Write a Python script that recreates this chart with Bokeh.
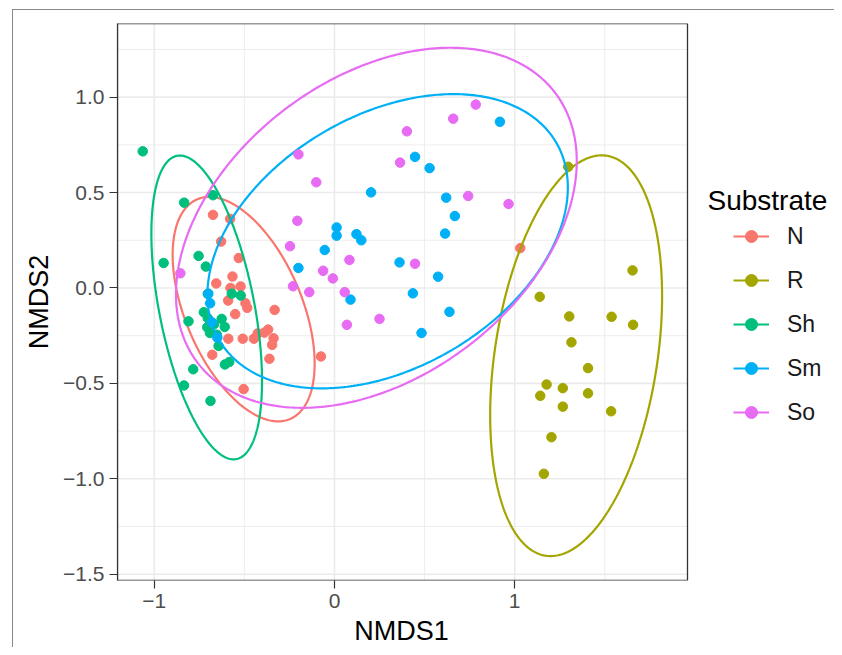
import numpy as np
from bokeh.plotting import figure
from bokeh.models import FixedTicker, Legend, LegendItem, Range1d, Label
from bokeh.embed import file_html
from bokeh.resources import INLINE

groups = ["N", "R", "Sh", "Sm", "So"]
colors = ["#F8766D", "#A3A500", "#00BF7D", "#00B0F6", "#E76BF3"]

# NMDS scores
n_x = [-0.674, -0.579, -0.629, -0.531, -0.656, -0.566, -0.577, -0.521, -0.590, -0.494,
       -0.484, -0.551, -0.332, -0.589, -0.509, -0.447, -0.426, -0.389, -0.368, -0.338,
       -0.346, -0.361, -0.678, -0.075, -0.504, 1.031]
n_y = [0.383, 0.362, 0.243, 0.157, 0.024, 0.060, 0.000, 0.008, -0.066, -0.080,
       -0.104, -0.137, -0.115, -0.266, -0.266, -0.266, -0.238, -0.234, -0.218, -0.264,
       -0.298, -0.371, -0.350, -0.359, -0.530, 0.209]

r_x = [1.297, 1.654, 1.139, 1.303, 1.538, 1.657, 1.315, 1.407, 1.177, 1.142,
       1.267, 1.407, 1.267, 1.535, 1.204, 1.162]
r_y = [0.635, 0.092, -0.046, -0.149, -0.151, -0.193, -0.285, -0.420, -0.506, -0.565,
       -0.525, -0.552, -0.622, -0.646, -0.782, -0.974]

sh_x = [-1.064, -0.948, -0.834, -0.754, -0.714, -0.674, -0.703, -0.725, -0.703, -0.706,
        -0.691, -0.668, -0.653, -0.643, -0.626, -0.609, -0.608, -0.584, -0.570, -0.520,
        -0.688, -0.835, -0.784, -0.810]
sh_y = [0.716, 0.131, 0.447, 0.168, 0.112, 0.486, -0.031, -0.127, -0.158, -0.206,
        -0.236, -0.190, -0.245, -0.304, -0.162, -0.204, -0.401, -0.388, -0.030, -0.040,
        -0.592, -0.511, -0.426, -0.175]

sm_x = [0.918, 0.447, 0.528, 0.203, 0.620, 0.668, 0.614, 0.012, 0.012, 0.122,
        0.149, -0.054, -0.200, 0.361, 0.575, 0.435, 0.089, 0.638, 0.483,
        -0.700, -0.690, -0.680, -0.650]
sm_y = [0.871, 0.687, 0.628, 0.501, 0.473, 0.377, 0.285, 0.317, 0.274, 0.282,
        0.250, 0.199, 0.105, 0.134, 0.059, -0.028, -0.061, -0.125, -0.236,
        -0.030, -0.080, -0.180, -0.260]

so_x = [0.784, 0.659, 0.402, 0.364, -0.200, -0.101, -0.206, 0.742, 0.966, -0.247,
        -0.063, 0.083, -0.009, 0.447, -0.230, -0.140, 0.057, 0.069, 0.250, -0.855]
so_y = [0.961, 0.887, 0.821, 0.657, 0.700, 0.554, 0.352, 0.482, 0.440, 0.219,
        0.090, 0.147, 0.050, 0.127, 0.009, -0.022, -0.022, -0.193, -0.162, 0.077]

# 95% ellipses: centre, half x-extent, half y-extent, correlation
ell_cx = [-0.504, 1.341, -0.709, 0.295, 0.2325]
ell_cy = [-0.111, -0.355, -0.102, 0.245, 0.3155]
ell_hx = [0.394, 0.477, 0.307, 1.000, 1.112]
ell_hy = [0.588, 1.050, 0.796, 0.771, 0.9435]
ell_rho = [-0.485, 0.297, -0.485, 0.365, 0.370]

xs_all = [n_x, r_x, sh_x, sm_x, so_x]
ys_all = [n_y, r_y, sh_y, sm_y, so_y]

x_ticks = [-1, 0, 1]
x_minor = [-0.5, 0.5, 1.5]
y_ticks = [-1.5, -1.0, -0.5, 0.0, 0.5, 1.0]
y_minor = [-1.25, -0.75, -0.25, 0.25, 0.75, 1.25]

legend_title = "Substrate"
FONT = "Liberation Sans"

# panel limits (data) and the extra room on the right that holds the legend
X_MIN, X_MAX = -1.204, 1.959
Y_MIN, Y_MAX = -1.533, 1.386
PANEL_W, FRAME_W, FRAME_H = 570, 718, 557
X_END = X_MIN + (X_MAX - X_MIN) * FRAME_W / PANEL_W

p = figure(width=822, height=638, output_backend="svg", toolbar_location=None,
           x_range=Range1d(X_MIN, X_END), y_range=Range1d(Y_MIN, Y_MAX),
           min_border_left=104, min_border_top=13, min_border_bottom=68, min_border_right=0,
           background_fill_color="white", border_fill_color="white",
           margin=(9, 0, 0, 12))
p.styles = {"border-left": "1px solid #8a8a8a", "border-top": "1px solid #8a8a8a"}
p.outline_line_color = None
p.grid.visible = False

p.xaxis.ticker = FixedTicker(ticks=x_ticks)
p.yaxis.ticker = FixedTicker(ticks=y_ticks)
p.xaxis.major_label_overrides = {-1: "\u22121", 0: "0", 1: "1"}
p.yaxis.major_label_overrides = {v: (("\u2212" if v < 0 else "") + f"{abs(v):.1f}") for v in y_ticks}

for ax in (p.xaxis[0], p.yaxis[0]):
    ax.axis_line_color = "#333333"
    ax.axis_line_width = 1.2
    ax.major_tick_line_color = "#333333"
    ax.major_tick_line_width = 1.2
    ax.major_tick_out = 8
    ax.major_tick_in = 0
    ax.minor_tick_line_color = None
    ax.major_label_text_font = FONT
    ax.major_label_text_font_size = "21px"
    ax.major_label_text_color = "#4D4D4D"
    ax.axis_label_text_font = FONT
    ax.axis_label_text_font_size = "27px"
    ax.axis_label_text_font_style = "normal"
    ax.axis_label_text_color = "black"
    ax.major_label_standoff = 5
p.xaxis.axis_line_color = None

# the x title is centred under the panel, not under the whole frame (which also holds the legend)
p.xaxis.axis_label = "NMDS1" + "\u00a0" * 20
p.yaxis.axis_label = "NMDS2"
p.xaxis.axis_label_standoff = 5
p.yaxis.axis_label_standoff = 6

# panel grid (major and minor), limited to the panel
p.segment(x0=x_minor, x1=x_minor, y0=Y_MIN, y1=Y_MAX, line_color="#EBEBEB", line_width=0.9)
p.segment(x0=X_MIN, x1=X_MAX, y0=y_minor, y1=y_minor, line_color="#EBEBEB", line_width=0.9)
p.segment(x0=x_ticks, x1=x_ticks, y0=Y_MIN, y1=Y_MAX, line_color="#EBEBEB", line_width=1.6)
p.segment(x0=X_MIN, x1=X_MAX, y0=y_ticks, y1=y_ticks, line_color="#EBEBEB", line_width=1.6)

items = []
t = np.linspace(0, 2 * np.pi, 361)
for i, grp in enumerate(groups):
    sc = p.scatter(xs_all[i], ys_all[i], size=9.5, color=colors[i], line_color=colors[i])
    phi = np.arccos(ell_rho[i])
    ex = ell_cx[i] + ell_hx[i] * np.cos(t)
    ey = ell_cy[i] + ell_hy[i] * np.cos(t - phi)
    ln = p.line(ex, ey, line_color=colors[i], line_width=2.2)
    items.append(LegendItem(label=grp, renderers=[ln, sc]))

# panel border
p.quad(left=X_MIN, right=X_MAX, bottom=Y_MIN, top=Y_MAX, fill_color=None,
       line_color="#333333", line_width=1.3)

legend = Legend(items=items, location=(616, 153))
legend.label_text_font = FONT
legend.label_text_font_size = "23px"
legend.label_text_color = "#1A1A1A"
legend.glyph_width = 36
legend.glyph_height = 30
legend.label_height = 30
legend.spacing = 14
legend.label_standoff = 18
legend.padding = 0
legend.margin = 0
legend.border_line_color = None
legend.background_fill_alpha = 0
p.add_layout(legend, "center")

p.add_layout(Label(x=2.07, y=0.458, text=legend_title, text_font=FONT,
                   text_font_size="28px", text_color="black", text_baseline="alphabetic"))

open("out.html", "w").write(file_html(p, INLINE))
